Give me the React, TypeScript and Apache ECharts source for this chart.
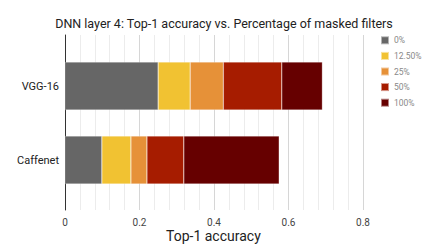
import React, { useEffect, useRef } from "react";
import * as echarts from "echarts";

const categories = ["Caffenet", "VGG-16"];
const seriesNames = ["0%", "12.50%", "25%", "50%", "100%"];
const colors = ["#666666", "#f1c232", "#e69138", "#a61c00", "#660000"];
// stacked segment values per series: [Caffenet, VGG-16]
const s0 = [0.099, 0.25];
const s12 = [0.078, 0.086];
const s25 = [0.043, 0.089];
const s50 = [0.099, 0.157];
const s100 = [0.256, 0.109];
const seriesValues = [s0, s12, s25, s50, s100];
const xTicks = [0, 0.2, 0.4, 0.6, 0.8];

export default function App() {
  const ref = useRef<HTMLDivElement>(null);
  useEffect(() => {
    const chart = echarts.init(ref.current!, null, { renderer: "svg" });
    chart.setOption({
      animation: false,
      backgroundColor: "#ffffff",
      title: {
        text: "DNN layer 4: Top-1 accuracy vs. Percentage of masked filters",
        left: 219,
        textAlign: "center",
        top: 12,
        textStyle: { fontFamily: "Roboto", fontSize: 12.5, fontWeight: "normal", color: "#222" },
      },
      legend: {
        orient: "vertical",
        left: 375,
        top: 35.3,
        padding: [0, 5, 0, 5],
        itemWidth: 8,
        itemHeight: 8,
        itemGap: 5.6,
        itemTextGap: 6,
        icon: "rect",
        data: seriesNames,
        textStyle: { fontFamily: "Roboto", fontSize: 8.5, lineHeight: 8, color: "#888" },
      },
      grid: [
        { left: 65, width: 298, top: 35, height: 175 },
        { left: 65, width: 298, top: 49, height: 148 },
      ],
      xAxis: [
        {
          gridIndex: 0,
          type: "value",
          min: xTicks[0],
          max: xTicks[xTicks.length - 1],
          interval: 0.2,
          axisLine: { show: false },
          axisTick: { show: false },
          axisLabel: {
            fontFamily: "Roboto",
            fontSize: 10,
            color: "#444",
            margin: 7,
            formatter: (v: number) => String(Math.round(v * 10) / 10),
          },
          splitLine: { show: true, lineStyle: { color: "#d6d6d6", width: 1 } },
          minorTick: { show: false, splitNumber: 5 },
          minorSplitLine: { show: true, lineStyle: { color: "#ececec", width: 1 } },
        },
        {
          gridIndex: 1,
          type: "value",
          min: 0,
          max: 0.8,
          show: false,
        },
      ],
      yAxis: [
        {
          gridIndex: 0,
          type: "value",
          min: 0,
          max: 1,
          axisLine: { show: true, onZero: false, lineStyle: { color: "#333", width: 1 } },
          axisTick: { show: false },
          axisLabel: { show: false },
          splitLine: { show: false },
        },
        {
          gridIndex: 1,
          type: "category",
          data: categories,
          axisLine: { show: false },
          axisTick: { show: false },
          axisLabel: { fontFamily: "Roboto", fontSize: 11, color: "#222", margin: 6 },
          splitLine: { show: false },
        },
      ],
      graphic: [
        {
          type: "text",
          left: 221 - 55,
          top: 229,
          style: {
            text: "Top-1 accuracy",
            fontFamily: "Roboto",
            fontSize: 14,
            fill: "#222",
          },
        },
      ],
      series: seriesNames.map((name, i) => ({
        name,
        type: "bar",
        xAxisIndex: 1,
        yAxisIndex: 1,
        stack: "total",
        barWidth: 48,
        data: seriesValues[i],
        itemStyle: { color: colors[i], borderColor: "rgba(255,255,255,0.5)", borderWidth: 0.5 },
      })),
    });
    return () => chart.dispose();
  }, []);
  return (
    <div
      ref={ref}
      style={{ position: "fixed", left: 0, top: 0, width: 438, height: 249 }}
    />
  );
}
